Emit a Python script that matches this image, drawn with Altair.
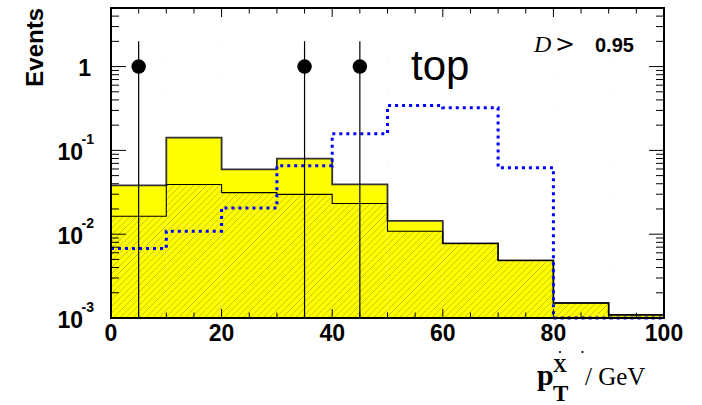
import altair as alt
import numpy as np
import pandas as pd

# ---------------- data ----------------
bin_edges = [0, 10, 20, 30, 40, 50, 60, 70, 80, 90, 100]
bkg_total = [0.0383, 0.1417, 0.0594, 0.0797, 0.0394, 0.0144, 0.00775, 0.00486, 0.00151, 0.00109]
bkg_hatched = [0.0164, 0.0391, 0.0313, 0.0299, 0.0232, 0.01086, 0.00775, 0.00486, 0.00151, 0.00109]
signal = [0.00676, 0.01086, 0.0206, 0.0657, 0.158, 0.343, 0.322, 0.0622, 0.001, 0.001]
data_x = [5, 35, 45]
data_y = [1, 1, 1]
data_hi = [2, 2, 2]
data_lo = [0.001, 0.001, 0.001]

x_ticks_major = [0, 20, 40, 60, 80, 100]
x_tick_labels = ["0", "20", "40", "60", "80", "100"]
x_ticks_minor = [5, 10, 15, 25, 30, 35, 45, 50, 55, 65, 70, 75, 85, 90, 95]
y_ticks_major = [0.001, 0.01, 0.1, 1]
y_ticks_minor = [k * 10.0 ** d for d in (-3, -2, -1) for k in range(2, 10)] + [2, 3, 4]
y_label_vals = [0.001, 0.01, 0.1]
y_label_exps = ["-3", "-2", "-1"]

# ---------------- layout constants ----------------
W, H = 553, 310
X_MIN, X_MAX = 0, 100
Y_MIN, Y_MAX = 0.001, 5.0
YELLOW = "#ffff00"
SANS = "Liberation Sans"
SERIF = "Liberation Serif"

xs = alt.Scale(domain=[X_MIN, X_MAX], nice=False, zero=False)
ys = alt.Scale(type="log", domain=[Y_MIN, Y_MAX], nice=False)


def X(f):
    return alt.X(f, type="quantitative", scale=xs, axis=None)


def Y(f):
    return alt.Y(f, type="quantitative", scale=ys, axis=None)


bins = pd.DataFrame({
    "lo": bin_edges[:-1], "hi": bin_edges[1:],
    "total": bkg_total, "part": bkg_hatched,
    "floor": Y_MIN, "ceil": Y_MAX,
})

# yellow base of stacked background
base = alt.Chart(bins).mark_rect(color=YELLOW, strokeWidth=0).encode(
    x=X("lo"), x2="hi", y=Y("floor"), y2="total")

# hatch lines (45 degrees), later masked above the hatched component
dx_line = H * (X_MAX - X_MIN) / W
step = 6.5 * (X_MAX - X_MIN) / W
xa = np.arange(X_MIN - dx_line, X_MAX + step, step)
hatch_df = pd.DataFrame({"xa": xa, "xb": xa + dx_line, "ya": Y_MIN, "yb": Y_MAX})
hatch = alt.Chart(hatch_df).mark_rule(color="#b3a600", strokeWidth=0.7, clip=True).encode(
    x=X("xa"), x2="xb", y=Y("ya"), y2="yb")

mask_yellow = alt.Chart(bins).mark_rect(color=YELLOW, strokeWidth=0).encode(
    x=X("lo"), x2="hi", y=Y("part"), y2="total")
mask_white = alt.Chart(bins).mark_rect(color="white", strokeWidth=0).encode(
    x=X("lo"), x2="hi", y=Y("total"), y2="ceil")


def step_df(vals):
    return pd.DataFrame({"x": bin_edges[:-1] + [bin_edges[-1]], "y": list(vals) + [vals[-1]]})


outer_line = alt.Chart(step_df(bkg_total)).mark_line(
    interpolate="step-after", color="#333333", strokeWidth=1.8).encode(x=X("x"), y=Y("y"))
inner_line = alt.Chart(step_df(bkg_hatched)).mark_line(
    interpolate="step-after", color="black", strokeWidth=1.1).encode(x=X("x"), y=Y("y"))
sig_line = alt.Chart(step_df(signal)).mark_line(
    interpolate="step-after", color="#0000ff", strokeWidth=3, strokeDash=[3, 4],
    strokeCap="butt").encode(x=X("x"), y=Y("y"))

pts = pd.DataFrame({"x": data_x, "y": data_y, "lo": data_lo, "hi": data_hi})
err = alt.Chart(pts).mark_rule(color="black", strokeWidth=1.2).encode(
    x=X("x"), y=Y("lo"), y2="hi")
dots = alt.Chart(pts).mark_circle(size=210, color="black", opacity=1).encode(
    x=X("x"), y=Y("y"))


# ticks (inside the frame, on all four sides)
def xticks(vals, length):
    df = pd.DataFrame({"v": vals})
    b = alt.Chart(df).mark_rule(color="black", strokeWidth=1).encode(
        x=X("v"), y=alt.value(H), y2=alt.value(H - length))
    t = alt.Chart(df).mark_rule(color="black", strokeWidth=1).encode(
        x=X("v"), y=alt.value(0), y2=alt.value(length))
    return [b, t]


def yticks(vals, length):
    df = pd.DataFrame({"v": vals})
    l = alt.Chart(df).mark_rule(color="black", strokeWidth=1).encode(
        y=Y("v"), x=alt.value(0), x2=alt.value(length))
    r = alt.Chart(df).mark_rule(color="black", strokeWidth=1).encode(
        y=Y("v"), x=alt.value(W), x2=alt.value(W - length))
    return [l, r]


ticks = xticks(x_ticks_major, 9) + xticks(x_ticks_minor, 5.5) + \
    yticks(y_ticks_major, 15) + yticks(y_ticks_minor, 8)

frame = alt.Chart(alt.Data(values=[{}])).mark_rect(
    fillOpacity=0, stroke="black", strokeWidth=2).encode(
    x=alt.value(0), x2=alt.value(W), y=alt.value(0), y2=alt.value(H))

# x tick labels
xlab = alt.Chart(pd.DataFrame({"v": x_ticks_major, "t": x_tick_labels})).mark_text(
    font=SANS, fontWeight="bold", fontSize=23, align="center",
    baseline="alphabetic", color="black").encode(
    x=X("v"), y=alt.value(H + 23), text="t:N")

# y tick labels (10 with superscript exponent, and "1")
ylab_df = pd.DataFrame({"v": y_label_vals, "e": y_label_exps})
ylab_base = alt.Chart(ylab_df).mark_text(
    text="10", font=SANS, fontWeight="bold", fontSize=23, align="right",
    baseline="alphabetic", dy=9.5, color="black").encode(y=Y("v"), x=alt.value(-28))
ylab_exp = alt.Chart(ylab_df).mark_text(
    font=SANS, fontWeight="bold", fontSize=14, align="left",
    baseline="alphabetic", dy=-6.5, color="black").encode(
    y=Y("v"), x=alt.value(-29.5), text="e:N")
ylab_one = alt.Chart(pd.DataFrame({"v": [1]})).mark_text(
    text="1", font=SANS, fontWeight="bold", fontSize=23, align="right",
    baseline="alphabetic", dy=9.5, color="black").encode(y=Y("v"), x=alt.value(-20))


def txt(s, x, y, size, font=SANS, weight="normal", style="normal", align="left",
        baseline="alphabetic", angle=0):
    return alt.Chart(alt.Data(values=[{}])).mark_text(
        text=s, font=font, fontSize=size, fontWeight=weight, fontStyle=style,
        align=align, baseline=baseline, angle=angle, color="black").encode(
        x=alt.value(x), y=alt.value(y))


texts = [
    txt("top", 300, 72, 42),
    txt("D", 423, 44, 24, font=SERIF, style="italic"),
    txt(">", 444, 44, 24, font="DejaVu Serif"),
    txt("0.95", 484, 44, 20, weight="bold"),
    txt("Events", -68, 0, 24, weight="bold", align="right", angle=270),
    txt("p", 426, 377, 30, font=SERIF, weight="bold"),
    txt("X", 442, 364, 19, font=SERIF, weight="bold"),
    txt("T", 442, 393, 23, font=SERIF, weight="bold"),
    txt("/ GeV", 474, 377, 25, font=SERIF),
]

# the two small dots above the axis title
tdots = alt.Chart(alt.Data(values=[{"px": 449}, {"px": 471.5}])).mark_circle(
    size=5, color="black", opacity=1).encode(
    x=alt.X("px:Q", scale=None, axis=None), y=alt.value(344))

chart = alt.layer(
    base, hatch, mask_yellow, mask_white, outer_line, inner_line, sig_line,
    err, dots, *ticks, frame, xlab, ylab_base, ylab_exp, ylab_one, *texts, tdots
).properties(
    width=W, height=H,
    autosize=alt.AutoSizeParams(type="none"),
    padding={"left": 111, "top": 8, "right": 38, "bottom": 87},
    background="white",
).configure_view(stroke=None)

chart.save("out.html", embed_options={"renderer": "svg", "actions": False})
